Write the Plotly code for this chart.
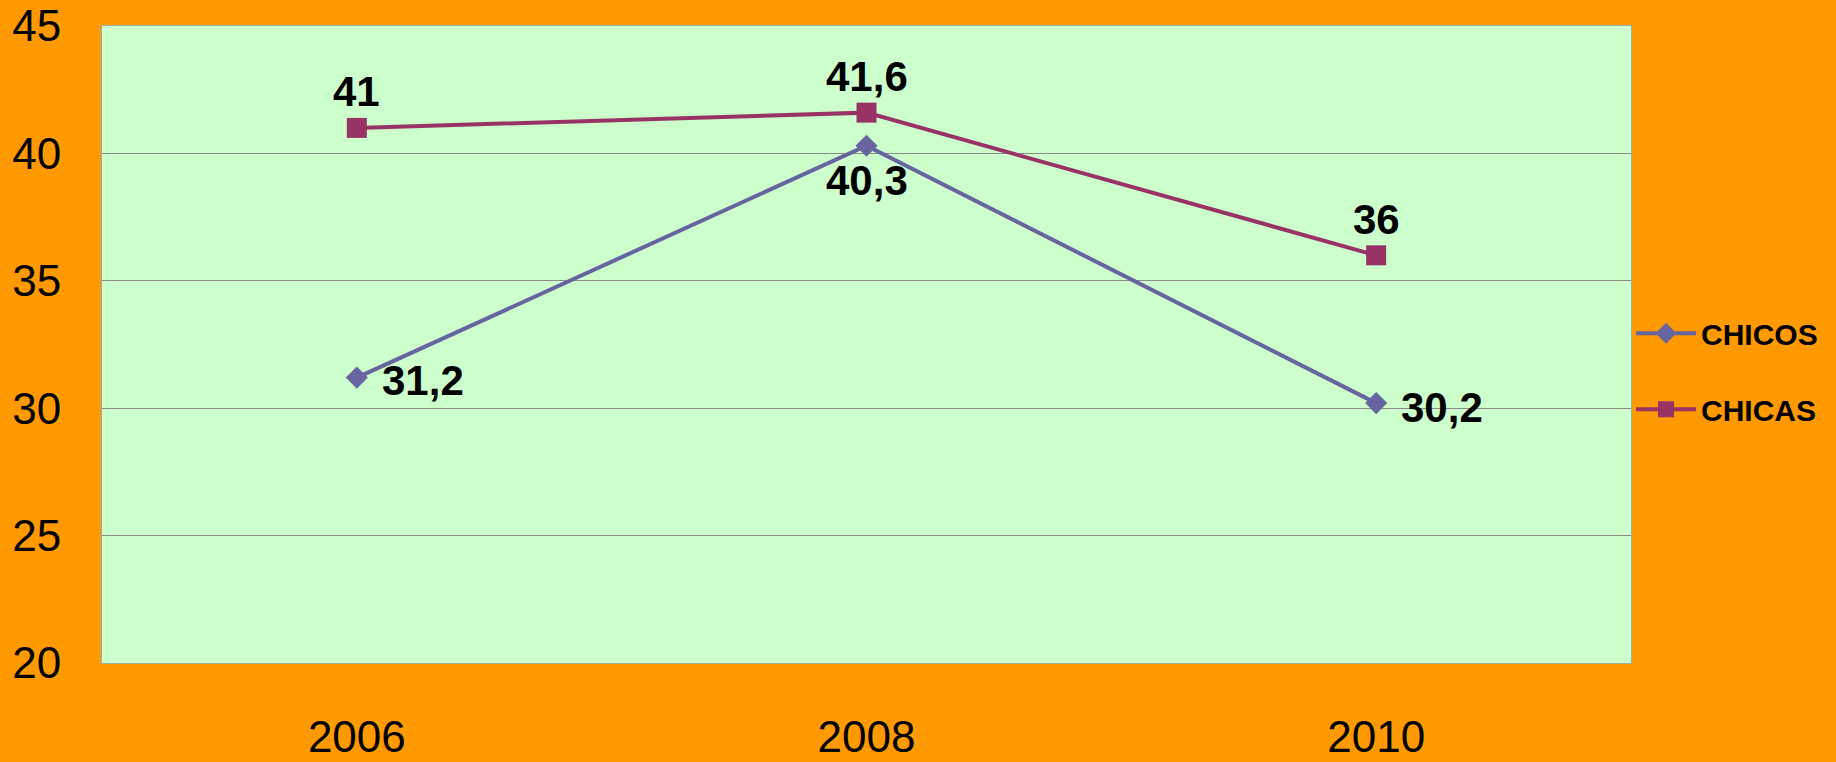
import plotly.graph_objects as go

years = ["2006", "2008", "2010"]
chicos = [31.2, 40.3, 30.2]
chicas = [41, 41.6, 36]
y_ticks = [20, 25, 30, 35, 40, 45]

def fmt(v):
    return ("%g" % v).replace(".", ",")

fig = go.Figure()
fig.add_trace(go.Scatter(
    x=years, y=chicos, name="CHICOS", mode="lines+markers",
    line=dict(color="#67659F", width=4),
    marker=dict(symbol="diamond", size=17, color="#67659F"),
    legendgroup="a",
))
fig.add_trace(go.Scatter(
    x=years, y=chicas, name="CHICAS", mode="lines+markers",
    line=dict(color="#993366", width=4),
    marker=dict(symbol="square", size=20, color="#993366"),
    legendgroup="b",
))

label_font = dict(family="Liberation Sans", size=42, color="black", weight="bold")
# CHICOS labels: right, below, right
chicos_pos = [("left", 23, -3), ("center", 0, -35), ("left", 23, -4)]
for i, (v, (xa, xs, ys)) in enumerate(zip(chicos, chicos_pos)):
    fig.add_annotation(x=i, y=v, xref="x", yref="y", text=fmt(v), showarrow=False,
                       font=label_font, xanchor=xa, yanchor="middle", xshift=xs, yshift=ys)
for i, v in enumerate(chicas):
    fig.add_annotation(x=i, y=v, xref="x", yref="y", text=fmt(v), showarrow=False,
                       font=label_font, xanchor="center", yanchor="middle", yshift=36)

fig.update_layout(
    width=1836, height=762,
    paper_bgcolor="#FF9900", plot_bgcolor="#CCFFCC",
    margin=dict(l=102, r=205, t=26, b=99, autoexpand=False),
    font=dict(family="Liberation Sans", color="black"),
    showlegend=True,
    legend=dict(
        x=1.0, xanchor="left", y=0.458, yanchor="middle",
        font=dict(family="Liberation Sans", size=30, color="black", weight="bold"),
        bgcolor="rgba(0,0,0,0)", tracegroupgap=34, itemwidth=60,
    ),
)
fig.update_xaxes(
    type="category", range=[-0.5, 2.5], showgrid=False,
    showline=True, linecolor="#9AAFA5", linewidth=1, mirror=True,
    tickfont=dict(size=44), ticks="", ticklabelstandoff=35,
    zeroline=False, automargin=False,
)
fig.update_yaxes(
    range=[20, 45], tickvals=y_ticks, showgrid=True, gridcolor="#8A8A8A", gridwidth=1,
    showline=True, linecolor="#9AAFA5", linewidth=1, mirror=True,
    tickfont=dict(size=44), ticks="", ticklabelstandoff=31,
    zeroline=False, automargin=False,
)

fig.write_html(
    "out.html",
    config={"displayModeBar": False},
    post_script="document.body.style.margin='0';document.body.style.overflow='hidden';",
)
